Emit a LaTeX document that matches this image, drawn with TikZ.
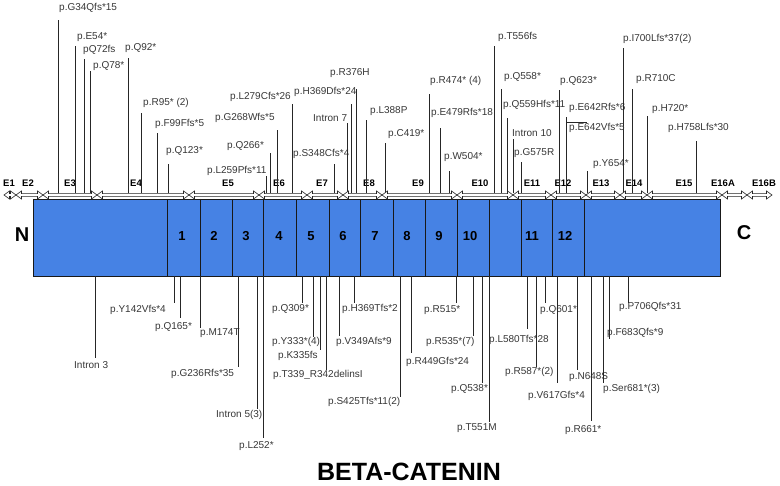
\documentclass[tikz,border=0pt]{standalone}
\usepackage{fontspec}
\setmainfont{Liberation Sans}
\definecolor{barblue}{RGB}{70,130,228}
\definecolor{labgray}{RGB}{55,55,55}
\begin{document}
\begin{tikzpicture}[x=1pt,y=-1pt,
  lab/.style={anchor=west,inner sep=0pt,text=labgray,font=\fontsize{10}{12}\selectfont},
  exlab/.style={inner sep=0pt,text=black,font=\bfseries\fontsize{9.5}{11}\selectfont},
  dom/.style={inner sep=0pt,text=black,font=\bfseries\fontsize{13}{15}\selectfont},
  term/.style={inner sep=0pt,text=black,font=\bfseries\fontsize{20}{22}\selectfont},
  stem/.style={draw=black!85,line width=0.8pt},
  exarr/.style={draw=black!85,line width=0.6pt,fill=white,line join=miter},
  divline/.style={draw=black!90,line width=0.8pt}]
\useasboundingbox (0,0) rectangle (780,486);
\fill[white] (0,0) rectangle (780,486);

% protein bar
\node[draw=black!90,line width=0.8pt,fill=barblue,minimum width=687pt,minimum height=77pt,anchor=north west,inner sep=0pt] (bar) at (33,199) {};
\foreach \x in {167,200,232,263,296,329,360,393,425,457,489,521,552,584}
  \draw[divline] (\x,199) -- (\x,276);
\foreach \n/\x in {1/182,2/214,3/246,4/279,5/311,6/343,7/375,8/407,9/439,10/470,11/532,12/565}
  \node[dom] (d\n) at (\x,236) {\n};
\node[term] (nterm) at (22,235) {N};
\node[term] (cterm) at (744,233) {C};

% exon labels
\foreach \t/\x in {E1/9,E2/28,E3/70,E4/136,E5/228,E6/279,E7/322,E8/369,E9/418,E10/480,E11/532,E12/563,E13/601,E14/634,E15/684,E16A/723,E16B/764}
  \node[exlab] (ex\t) at (\x,183) {\t};

% top mutations (stems drawn before arrows)
\foreach \n/\sx/\sy/\lx/\ly/\t in {
  1/58/20/59/8/p.G34Qfs*15,
  2/75/46/77/37/p.E54*,
  3/84/59/83/50/pQ72fs,
  4/90/71/93/66/p.Q78*,
  5/128/58/125/48/p.Q92*,
  6/141/113/143/103/p.R95* (2),
  7/157/133/155/124/p.F99Ffs*5,
  8/168/164/166/151/p.Q123*,
  9/266/176/207/171/p.L259Pfs*11,
  10/270/153/227/146/p.Q266*,
  11/277/130/215/118/p.G268Wfs*5,
  12/292/104/230/97/p.L279Cfs*26,
  13/334/164/293/154/p.S348Cfs*4,
  14/347/123/313/118/Intron 7,
  15/351/104/294/92/p.H369Dfs*24,
  16/356/89/330/73/p.R376H,
  17/366/120/370/111/p.L388P,
  18/385/143/388/134/p.C419*,
  19/429/94/430/81/p.R474* (4),
  20/440/128/431/113/p.E479Rfs*18,
  21/449/171/444/157/p.W504*,
  22/494/46/498/37/p.T556fs,
  23/501/89/504/77/p.Q558*,
  24/507/118/503/105/p.Q559Hfs*11,
  25/513/139/512/133/Intron 10,
  26/521/162/514/153/p.G575R,
  27/559/90/560/81/p.Q623*,
  28/566/117/569/108/p.E642Rfs*6,
  30/587/171/593/164/p.Y654*,
  31/623/48/623/39/p.I700Lfs*37(2),
  32/632/89/636/79/p.R710C,
  33/647/116/652/109/p.H720*,
  34/696/141/668/128/p.H758Lfs*30}
{
  \node[lab] (t\n) at (\lx,\ly) {\t};
  \draw[stem] (\sx,193.5) -- (\sx,\sy);
}
\node[lab] (t29) at (569,128) {p.E642Vfs*5};
\coordinate (e642a) at (566,122);
\coordinate (e642b) at (587,122);
\draw[stem] (e642a) -- (e642b);

% exon arrows (double-headed outlined arrows)
\foreach \a/\b in {4/16,16/43,43/97,97/189,189/259,259/307,307/343,343/382,382/457,457/513,513/551,551/586,586/620,620/647,647/722,722/747,747/772}
  \draw[exarr] (\a,195) -- (\a+5.5,191) -- (\a+5.5,193.6) -- (\b-5.5,193.6) -- (\b-5.5,191)
     -- (\b,195) -- (\b-5.5,199) -- (\b-5.5,196.4) -- (\a+5.5,196.4) -- (\a+5.5,199) -- cycle;

% bottom mutations
\foreach \n/\sx/\sy/\lx/\ly/\t in {
  1/95/358/74/365/Intron 3,
  2/174/303/110/310/p.Y142Vfs*4,
  3/180/318/155/327/p.Q165*,
  4/200/328/200/333/p.M174T,
  5/238/367/171/374/p.G236Rfs*35,
  6/257/409/216/415/Intron 5(3),
  7/263/438/239/446/p.L252*,
  8/302/303/272/309/p.Q309*,
  9/313/337/272/342/p.Y333*(4),
  10/320/350/278/356/p.K335fs,
  11/326/370/273/375/p.T339\_R342delinsI,
  12/339/336/336/342/p.V349Afs*9,
  13/354/303/342/309/p.H369Tfs*2,
  14/400/397/328/402/p.S425Tfs*11(2),
  15/411/353/406/362/p.R449Gfs*24,
  16/456/303/424/310/p.R515*,
  17/473/336/426/342/p.R535*(7),
  18/482/383/451/389/p.Q538*,
  19/489/422/457/428/p.T551M,
  20/527/329/489/340/p.L580Tfs*28,
  21/536/367/505/372/p.R587*(2),
  22/545/303/540/310/p.Q601*,
  23/557/383/528/396/p.V617Gfs*4,
  24/577/370/569/377/p.N648S,
  25/591/421/565/430/p.R661*,
  26/603/383/603/389/p.Ser681*(3),
  27/609/339/607/333/p.F683Qfs*9,
  28/628/303/619/307/p.P706Qfs*31}
{
  \node[lab] (b\n) at (\lx,\ly) {\t};
  \draw[stem] (\sx,276.5) -- (\sx,\sy);
}

% title
\node[inner sep=0pt,text=black,font=\bfseries\fontsize{25}{28}\selectfont] (title) at (409,472) {BETA-CATENIN};
\end{tikzpicture}
\end{document}
